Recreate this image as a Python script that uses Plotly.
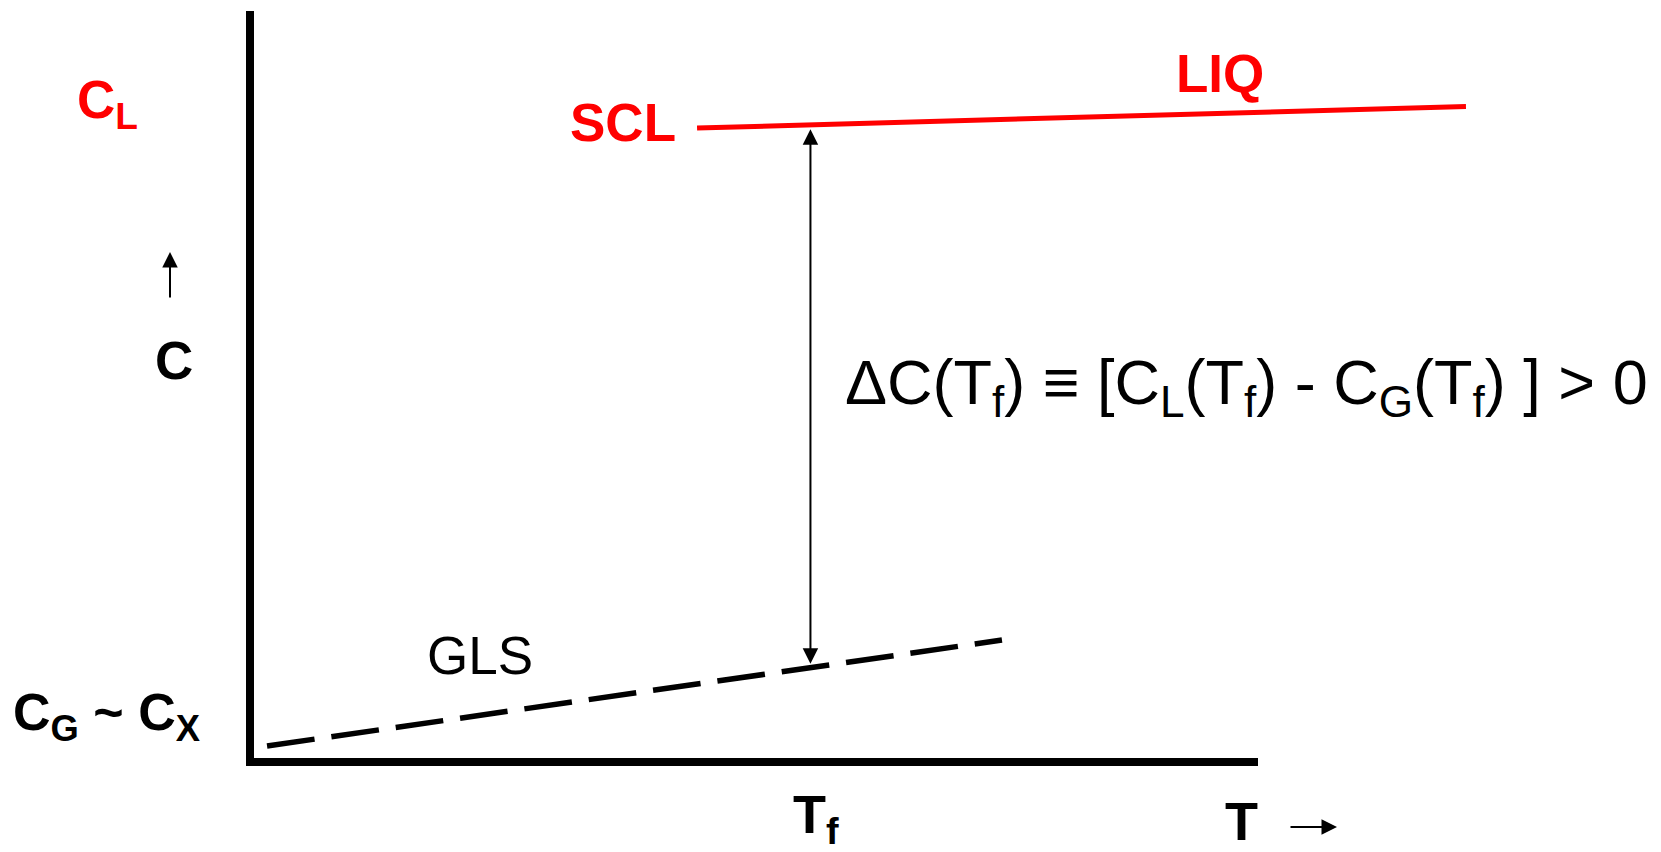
import numpy as np
import plotly.graph_objects as go

# ---- schematic data (arbitrary units: T along x, C along y) ----
T_AXIS = [0, 100]
C_AXIS = [0, 100]

# supercooled liquid -> liquid heat capacity
T_LIQ = [44.35, 120.63]
C_LIQ = [84.42, 87.28]

# glass heat capacity (dashed)
T_GLS = [1.69, 74.6]
C_GLS = [2.13, 16.24]

# fictive temperature
T_F = 55.6

# ---- canvas geometry ----
W, H = 1661, 852
ORIGIN_X, ORIGIN_Y = 250, 762      # pixel position of the axes origin
SX, SY = 10.08, 7.51               # pixels per unit


def ux(px):
    return (px - ORIGIN_X) / SX


def uy(py):
    return (ORIGIN_Y - py) / SY


RED = "#ff0000"
BLACK = "#000000"
FONT = "Liberation Sans, Arial, sans-serif"

fig = go.Figure()

# axes drawn as one polyline: top of C axis -> origin -> end of T axis
fig.add_trace(go.Scatter(
    x=[T_AXIS[0], T_AXIS[0], T_AXIS[1]],
    y=[C_AXIS[1], C_AXIS[0], C_AXIS[0]],
    mode="lines", line=dict(color=BLACK, width=8),
    hoverinfo="skip", showlegend=False,
))

# SCL / LIQ line
fig.add_trace(go.Scatter(
    x=T_LIQ, y=C_LIQ, mode="lines",
    line=dict(color=RED, width=5),
    hoverinfo="skip", showlegend=False,
))

# GLS dashed line
fig.add_trace(go.Scatter(
    x=T_GLS, y=C_GLS, mode="lines",
    line=dict(color=BLACK, width=5.5, dash="48px,17px"),
    hoverinfo="skip", showlegend=False,
))

# values of both lines at T_f
c_liq_tf = float(np.interp(T_F, T_LIQ, C_LIQ))
c_gls_tf = float(np.interp(T_F, T_GLS, C_GLS))

annotations = []

# double-headed arrow showing the jump at T_f
annotations.append(dict(
    x=T_F, y=c_gls_tf, ax=T_F, ay=c_liq_tf,
    xref="x", yref="y", axref="x", ayref="y",
    text="", showarrow=True, arrowside="end+start",
    arrowhead=2, startarrowhead=2, arrowsize=1.55, startarrowsize=1.55,
    arrowwidth=2, arrowcolor=BLACK, standoff=4, startstandoff=3,
))

# small direction arrows next to the axis titles
annotations.append(dict(
    x=ux(170), y=uy(252), ax=ux(170), ay=uy(299),
    xref="x", yref="y", axref="x", ayref="y",
    text="", showarrow=True, arrowhead=2, arrowsize=1.55,
    arrowwidth=2, arrowcolor=BLACK,
))
annotations.append(dict(
    x=ux(1337), y=uy(827), ax=ux(1289), ay=uy(827),
    xref="x", yref="y", axref="x", ayref="y",
    text="", showarrow=True, arrowhead=2, arrowsize=1.55,
    arrowwidth=2, arrowcolor=BLACK,
))


def label(text, px_left, py_mid, size, color=BLACK):
    annotations.append(dict(
        x=ux(px_left), y=uy(py_mid), xref="x", yref="y",
        text=text, showarrow=False, xanchor="left", yanchor="middle",
        font=dict(family=FONT, size=size, color=color),
        borderpad=0,
    ))


label("<b>C<sub>L</sub></b>", 76, 103, 53, RED)
label("<b>C</b>", 154, 360, 53)
label("<b>SCL</b>", 569, 122.5, 53, RED)
label("<b>LIQ</b>", 1175, 73, 53, RED)
label("GLS", 426, 655.5, 53)
label("\u0394C(T<sub>f</sub>) \u2261 [C<sub>L</sub>(T<sub>f</sub>) - "
      "C<sub>G</sub>(T<sub>f</sub>) ] > 0", 844, 386, 63)
label("<b>C<sub>G</sub> ~ C<sub>X</sub></b>", 12, 716, 52)
label("<b>T<sub>f</sub></b>", 792, 818, 54)
label("<b>T</b>", 1224, 820.5, 54)

fig.update_layout(
    width=W, height=H,
    margin=dict(l=0, r=0, t=0, b=0),
    paper_bgcolor="white", plot_bgcolor="white",
    xaxis=dict(range=[ux(0), ux(W)], visible=False, fixedrange=True),
    yaxis=dict(range=[uy(H), uy(0)], visible=False, fixedrange=True),
    annotations=annotations,
    showlegend=False,
)

fig.write_html("out.html")
